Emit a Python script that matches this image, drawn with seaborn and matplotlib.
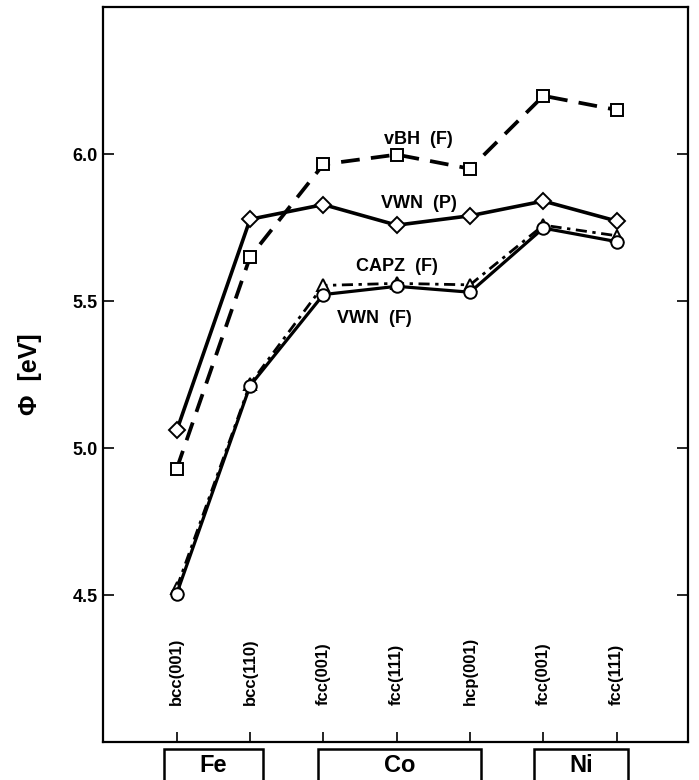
import numpy as np
import pandas as pd
import matplotlib
matplotlib.use("Agg")
import matplotlib.pyplot as plt
import matplotlib.transforms as mtransforms
from matplotlib.patches import Rectangle
import seaborn as sns

# ---- data ----
surfaces = ["bcc(001)", "bcc(110)", "fcc(001)", "fcc(111)", "hcp(001)", "fcc(001)", "fcc(111)"]
vbh_f = [4.93, 5.65, 5.965, 5.998, 5.950, 6.198, 6.150]
vwn_p = [5.06, 5.778, 5.828, 5.758, 5.790, 5.840, 5.772]
vwn_f = [4.505, 5.212, 5.522, 5.550, 5.530, 5.748, 5.702]
capz_f = [4.525, 5.218, 5.553, 5.560, 5.555, 5.758, 5.722]
series_labels = ["vBH  (F)", "VWN  (P)", "CAPZ  (F)", "VWN  (F)"]
elements = ["Fe", "Co", "Ni"]
element_ranges = [(-0.18, 1.17), (1.92, 4.15), (4.87, 6.16)]
yticks = [4.5, 5.0, 5.5, 6.0]

sns.set_style("ticks")
plt.rcParams["font.family"] = ["Liberation Sans", "DejaVu Sans"]
plt.rcParams["text.color"] = "black"
plt.rcParams["axes.labelcolor"] = "black"
plt.rcParams["xtick.color"] = "black"
plt.rcParams["ytick.color"] = "black"

fig = plt.figure(figsize=(6.99, 7.80), dpi=100)
ax = fig.add_axes([0.148, 0.0487, 0.836, 0.9423])

xpos = np.arange(len(surfaces))
df = pd.DataFrame({"x": xpos, "vbh": vbh_f, "vwnp": vwn_p, "vwnf": vwn_f, "capz": capz_f})

common = dict(color="black", markerfacecolor="white", markeredgecolor="black",
              markeredgewidth=1.4, legend=False, ax=ax)
sns.lineplot(data=df, x="x", y="vbh", marker="s", markersize=8.5,
             linestyle=(0, (5.0, 3.0)), linewidth=2.7, zorder=3, **common)
sns.lineplot(data=df, x="x", y="vwnp", marker="D", markersize=8,
             linestyle="-", linewidth=2.6, zorder=4, **common)
sns.lineplot(data=df, x="x", y="capz", marker="^", markersize=8.5,
             linestyle=(0, (4, 2, 1.2, 2)), linewidth=2.0, zorder=5, **common)
sns.lineplot(data=df, x="x", y="vwnf", marker="o", markersize=9,
             linestyle="-", linewidth=2.3, zorder=6, **common)

# series labels
label_pos = [(3.3, 6.05), (3.3, 5.83), (3.0, 5.618), (2.7, 5.44)]
for txt, (lx, ly) in zip(series_labels, label_pos):
    ax.text(lx, ly, txt, ha="center", va="center", fontsize=13,
            fontweight="bold", color="black", zorder=7)

ax.set_xlim(-1.0, 6.97)
ax.set_ylim(4.0, 6.5)
ax.set_yticks(yticks)
ax.set_yticklabels([f"{v:.1f}" for v in yticks], fontsize=13, fontweight="bold")
ax.set_xticks(xpos)
ax.set_xticklabels([])
ax.tick_params(axis="y", direction="in", length=8, width=1.2, pad=4, left=True, right=True,
               colors="black")
ax.tick_params(axis="x", direction="in", length=7, width=1.2, top=False, colors="black")
for s in ax.spines.values():
    s.set_linewidth(1.6)
    s.set_color("black")

# surface labels inside the axes
trans = mtransforms.blended_transform_factory(ax.transData, ax.transAxes)
for xp, lab in zip(xpos, surfaces):
    ax.text(xp, 0.05, lab, rotation=90, ha="center", va="bottom",
            fontsize=12, fontweight="bold", color="black", transform=trans)

ax.set_xlabel("")
ax.set_ylabel("\u03a6  [eV]", fontsize=18, fontweight="bold", color="black")
ax.yaxis.set_label_coords(-0.105, 0.5)

# element boxes below the axes
for el, (x0, x1) in zip(elements, element_ranges):
    r = Rectangle((x0, -0.09), x1 - x0, 0.0805, transform=trans, fill=False,
                  edgecolor="black", linewidth=1.8, clip_on=False)
    ax.add_patch(r)
    ax.text((x0 + x1) / 2, -0.032, el, ha="center", va="center",
            fontsize=17, fontweight="bold", color="black", transform=trans, clip_on=False)

fig.savefig("out.png", dpi=100)
